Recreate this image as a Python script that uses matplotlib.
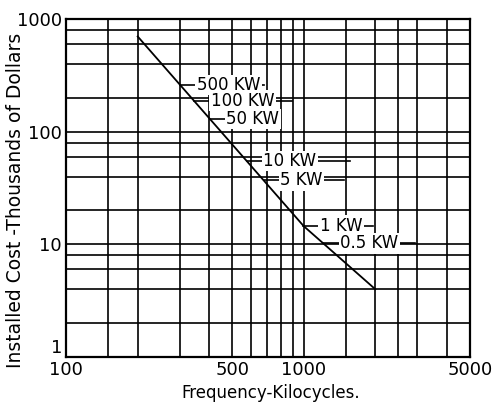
import numpy as np
import matplotlib.pyplot as plt
from matplotlib.ticker import NullFormatter

# cost curve
freq = [200, 1000, 2000]
cost = [700, 14.5, 4]

x_ticks = [100, 500, 1000, 5000]
y_ticks = [1, 10, 100, 1000]
x_grid = [150, 200, 300, 400, 500, 600, 700, 800, 900, 1000, 1500, 2000, 2500, 3000, 4000]
y_grid = [2, 4, 6, 8, 10, 20, 40, 60, 80, 100, 200, 400, 600, 800]

# power labels: cost level where each sits, and where its rule ends
kw_labels = ['500 KW', '100 KW', '50 KW', '10 KW', '5 KW', '1 KW', '0.5 KW']
kw_cost = [260, 188, 130, 55, 37, 14.7, 10.2]
kw_end = [680, 890, 780, 1560, 1480, 1950, 2950]

fig = plt.figure(figsize=(4.94, 4.05), dpi=100)
ax = fig.add_axes([0.134, 0.1185, 0.817, 0.8345])
ax.set_xscale('log')
ax.set_yscale('log')
ax.set_xlim(100, 5000)
ax.set_ylim(1, 1000)

ax.set_xticks(x_ticks)
ax.set_xticklabels([str(t) for t in x_ticks])
ax.set_xticks(x_grid, minor=True)
ax.set_yticks(y_ticks)
ax.set_yticklabels([str(t) for t in y_ticks])
ax.set_yticks(y_grid, minor=True)
ax.xaxis.set_minor_formatter(NullFormatter())
ax.yaxis.set_minor_formatter(NullFormatter())
ax.tick_params(which='both', length=0, labelsize=13, colors='black')
ax.tick_params(axis='x', pad=3)
ax.tick_params(axis='y', pad=3)
ax.get_yticklabels()[0].set_verticalalignment('bottom')
ax.grid(which='both', color='black', lw=1.2)
for s in ax.spines.values():
    s.set_linewidth(1.6)

ax.plot(freq, cost, color='black', lw=1.3, zorder=4)

# x position on the curve for each label
lx = 10 ** np.interp(np.log10(kw_cost), np.log10(cost[::-1]), np.log10(freq[::-1]))
for lab, c, x0, x1 in zip(kw_labels, kw_cost, lx, kw_end):
    ax.plot([x0, x1], [c, c], color='black', lw=1.2, zorder=3)
    ax.annotate(lab, xy=(x0, c), xytext=(12, 0), textcoords='offset points',
                ha='left', va='center', fontsize=12, zorder=5,
                bbox=dict(facecolor='white', edgecolor='none', pad=1))

fig.text(0.032, 0.505, 'Installed Cost -Thousands of Dollars', rotation=90,
         ha='center', va='center', fontsize=13.5)
fig.text(0.547, 0.03, 'Frequency-Kilocycles.', ha='center', va='center', fontsize=12)

fig.savefig('out.png', dpi=100, facecolor='white')
